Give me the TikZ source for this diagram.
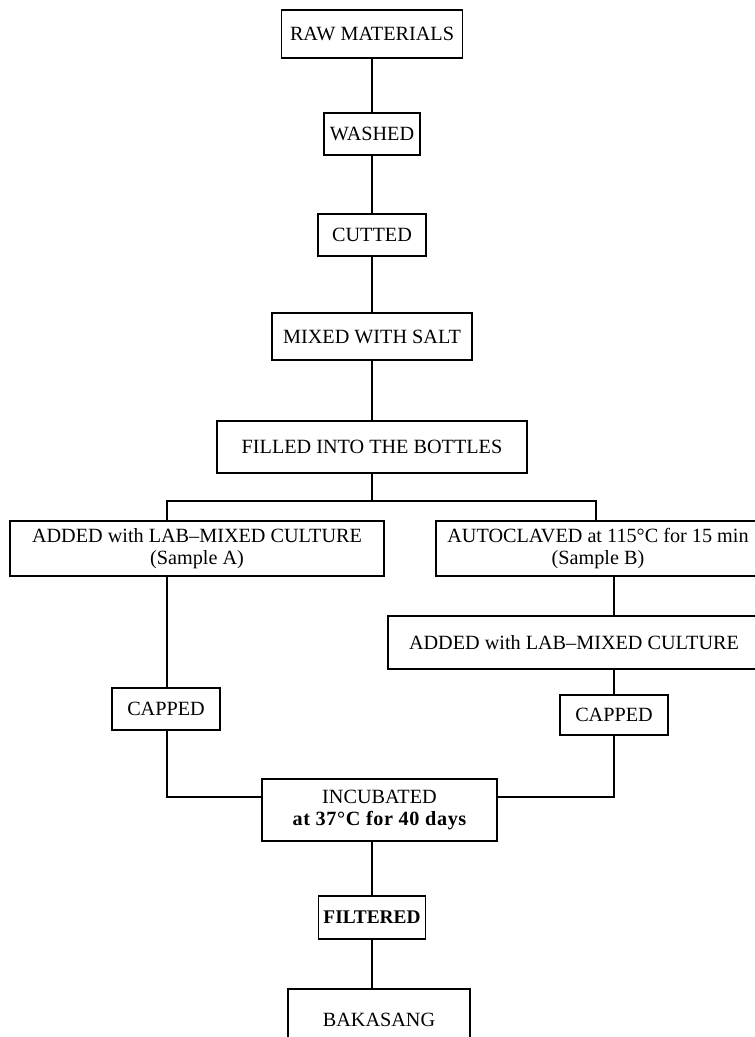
\documentclass[tikz,border=0pt]{standalone}
\usepackage{fontspec}
\setmainfont{Liberation Serif}
\usetikzlibrary{positioning,calc}
\tikzset{
  link/.style={draw=black, line width=0.7pt},
  stepbox/.style={draw=black, line width=0.7pt, fill=white, text=black,
                  font=\fontsize{11.5}{12.8}\selectfont,
                  inner xsep=3pt, inner ysep=2pt, align=center},
  heavy/.style={font=\fontsize{11}{12.8}\selectfont\bfseries}
}
\newcommand{\spaced}[1]{{\addfontfeature{LetterSpace=3}#1}}

\begin{document}
\begin{tikzpicture}
\useasboundingbox (0,0) rectangle (15.1,20.74);

% ------------------------------------------------------------
% TOP: preparation steps
% ------------------------------------------------------------
\node[stepbox, minimum width=3.62cm, minimum height=0.96cm] (raw) at (7.44,20.06) {RAW MATERIALS};
\node[stepbox, minimum width=1.92cm, minimum height=0.84cm] (washed) at (7.44,18.06) {WASHED};
\node[stepbox, minimum width=2.16cm, minimum height=0.84cm] (cutted) at (7.44,16.04) {CUTTED};
\node[stepbox, minimum width=4.00cm, minimum height=0.94cm] (salt) at (7.44,14.01) {MIXED WITH SALT};
\node[stepbox, minimum width=6.20cm, minimum height=1.04cm] (filled) at (7.44,11.80) {FILLED INTO THE BOTTLES};

\draw[link] (raw) -- (washed);
\draw[link] (washed) -- (cutted);
\draw[link] (cutted) -- (salt);
\draw[link] (salt) -- (filled);

% ------------------------------------------------------------
% MIDDLE: two samples
% ------------------------------------------------------------
\coordinate (brL) at (3.34,10.72);
\coordinate (brR) at (11.92,10.72);

\node[stepbox, minimum width=7.48cm, minimum height=1.10cm] (sampA) at (3.94,9.77)
{ADDED with LAB--MIXED CULTURE\\(Sample A)};
\node[stepbox, minimum width=6.48cm, minimum height=1.10cm] (sampB) at (11.96,9.77)
{AUTOCLAVED at 115°C for 15 min\\(Sample B)};
\node[stepbox, minimum width=7.44cm, minimum height=1.06cm] (addB) at (11.48,7.89)
{ADDED with LAB--MIXED CULTURE};
\node[stepbox, minimum width=2.16cm, minimum height=0.84cm] (capA) at (3.32,6.56) {CAPPED};
\node[stepbox, minimum width=2.16cm, minimum height=0.80cm] (capB) at (12.28,6.44) {CAPPED};

\draw[link] (filled.south) -- (filled.south |- brL);
\draw[link] (brL |- sampA.north) -- (brL) -- (brR) -- (brR |- sampB.north);
\draw[link] (sampB.south -| capB) -- (addB.north -| capB);
\draw[link] (addB.south -| capB) -- (capB.north);
\draw[link] (sampA.south -| brL) -- (capA.north -| brL);

% ------------------------------------------------------------
% BOTTOM: incubation and product
% ------------------------------------------------------------
\node[stepbox, minimum width=4.70cm, minimum height=1.24cm] (incub) at (7.59,4.54)
{INCUBATED\\{\bfseries\spaced{at 37°C for 40 days}}};
\node[stepbox, heavy, minimum width=2.12cm, minimum height=0.86cm] (filt) at (7.44,2.39) {FILTERED};
\node[stepbox, minimum width=3.64cm, minimum height=1.22cm] (baka) at (7.58,0.35) {BAKASANG};

\coordinate (joinL) at (3.34,4.80);
\coordinate (joinR) at (12.28,4.80);
\draw[link] (capA.south -| brL) -- (joinL) -- (joinL -| incub.west);
\draw[link] (capB.south) -- (joinR) -- (joinR -| incub.east);
\draw[link] (filt.north) -- (filt.north |- incub.south);
\draw[link] (filt.south) -- (filt.south |- baka.north);

\end{tikzpicture}
\end{document}
